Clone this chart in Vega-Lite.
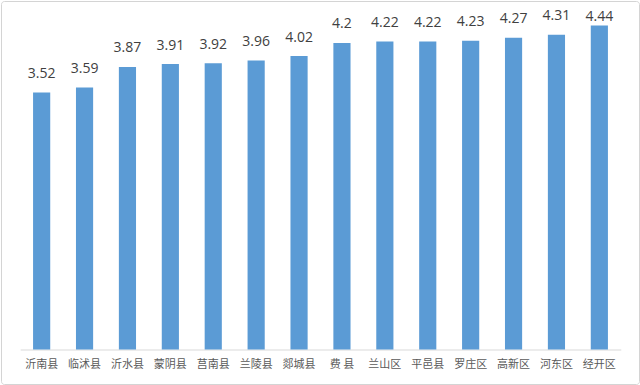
{
  "$schema": "https://vega.github.io/schema/vega-lite/v6.json",
  "width": 638,
  "height": 383,
  "padding": 1,
  "autosize": {"type": "none"},
  "background": "white",
  "config": {
    "view": {"stroke": "#d4d4d4", "strokeWidth": 1, "cornerRadius": 3, "fill": "white"}
  },
  "data": {
    "values": [
      {"county": "沂南县", "value": 3.52},
      {"county": "临沭县", "value": 3.59},
      {"county": "沂水县", "value": 3.87},
      {"county": "蒙阴县", "value": 3.91},
      {"county": "莒南县", "value": 3.92},
      {"county": "兰陵县", "value": 3.96},
      {"county": "郯城县", "value": 4.02},
      {"county": "费 县", "value": 4.2},
      {"county": "兰山区", "value": 4.22},
      {"county": "平邑县", "value": 4.22},
      {"county": "罗庄区", "value": 4.23},
      {"county": "高新区", "value": 4.27},
      {"county": "河东区", "value": 4.31},
      {"county": "经开区", "value": 4.44}
    ]
  },
  "encoding": {
    "x": {
      "field": "county",
      "type": "nominal",
      "sort": null,
      "scale": {"range": [19.2, 619.8], "paddingInner": 0.6, "paddingOuter": 0.3},
      "axis": {
        "title": null,
        "orient": "bottom",
        "offset": -34.5,
        "labelAngle": 0,
        "ticks": false,
        "domainColor": "#d9d9d9",
        "domainWidth": 1,
        "labelColor": "#595959",
        "labelFont": "Noto Sans CJK SC",
        "labelFontSize": 11,
        "labelPadding": 9,
        "grid": false
      }
    },
    "y": {
      "field": "value",
      "type": "quantitative",
      "scale": {"domain": [-0.4726, 4.774], "nice": false, "zero": false},
      "axis": null
    }
  },
  "layer": [
    {
      "mark": {"type": "bar", "color": "#5b9bd5"},
      "encoding": {"y2": {"datum": 0}}
    },
    {
      "transform": [{"filter": "datum.value < 4.4"}],
      "mark": {"type": "text", "baseline": "alphabetic", "dy": -14.5, "font": "Open Sans", "fontSize": 14, "color": "#404040"},
      "encoding": {"text": {"field": "value", "type": "quantitative"}}
    },
    {
      "transform": [{"filter": "datum.value >= 4.4"}],
      "mark": {"type": "text", "baseline": "alphabetic", "dy": -4.6, "font": "Open Sans", "fontSize": 14, "color": "#404040"},
      "encoding": {"text": {"field": "value", "type": "quantitative"}}
    }
  ]
}
